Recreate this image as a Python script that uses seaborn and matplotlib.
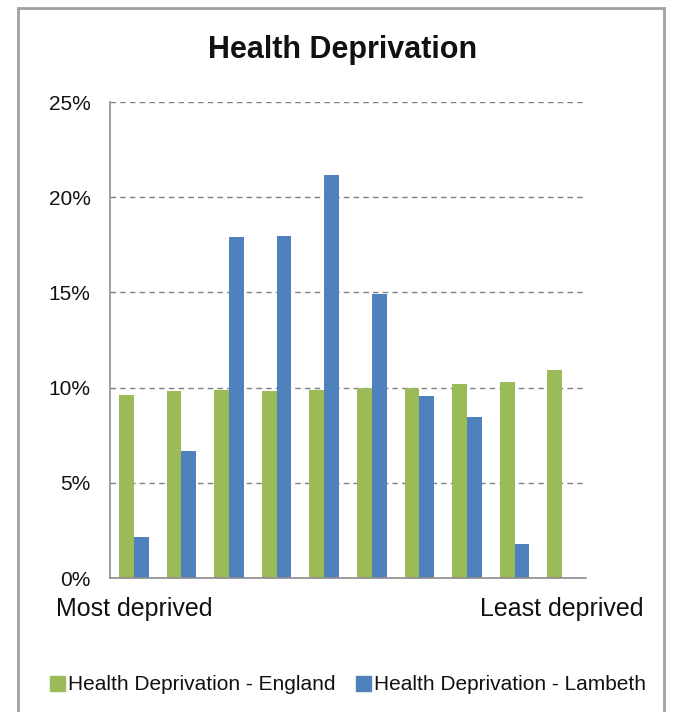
import numpy as np
import pandas as pd
import matplotlib
matplotlib.use("Agg")
import matplotlib.pyplot as plt
import matplotlib.patches as mpatches
import seaborn as sns

# ========= Data =========
deciles = [str(i) for i in range(1, 11)]
england = [9.63, 9.8, 9.9, 9.8, 9.9, 10.0, 10.0, 10.2, 10.28, 10.9]
lambeth = [2.17, 6.68, 17.9, 17.95, 21.16, 14.9, 9.54, 8.44, 1.77, 0.0]
series_names = ["Health Deprivation - England", "Health Deprivation - Lambeth"]
tick_labels = ["Most deprived", "", "", "", "", "", "", "", "", "Least deprived"]

df = pd.DataFrame({
    "decile": deciles * 2,
    "value": england + lambeth,
    "series": [series_names[0]] * 10 + [series_names[1]] * 10,
})

# ========= Plot =========
sns.set_style("white")
plt.rcParams["font.family"] = ["Liberation Sans", "DejaVu Sans"]
plt.rcParams["text.color"] = "#111111"
plt.rcParams["xtick.labelcolor"] = "#111111"
plt.rcParams["ytick.labelcolor"] = "#111111"

fig = plt.figure(figsize=(6.77, 7.12), dpi=100)
ax = fig.add_axes([110 / 677, 1 - 578 / 712, 476 / 677, 476 / 712])

sns.barplot(data=df, x="decile", y="value", hue="series",
            palette=["#9BBB59", "#4F81BD"], width=0.62, gap=0,
            saturation=1, linewidth=0, ax=ax, legend=False)

ax.set_ylim(0, 25)
ax.set_xlim(-0.5, 9.5)
ax.set_yticks([0, 5, 10, 15, 20, 25])
ax.set_yticklabels([f"{v}%" for v in [0, 5, 10, 15, 20, 25]], fontsize=15)
ax.set_xticks(range(10))
ax.set_xticklabels(tick_labels, fontsize=18)
ax.set_xticks(np.arange(-0.5, 10, 1), minor=True)
ax.tick_params(axis="x", which="major", length=0, pad=14)
ax.tick_params(axis="x", which="minor", length=6, color="#8c8c8c", width=1.2)
ax.tick_params(axis="y", length=6, color="#8c8c8c", width=1.2, pad=8)
ax.set_xlabel("")
ax.set_ylabel("")

ax.yaxis.grid(True, linestyle=(0, (4, 3)), color="#7f7f7f", linewidth=1)
ax.set_axisbelow(True)
for s in ["top", "right"]:
    ax.spines[s].set_visible(False)
for s in ["left", "bottom"]:
    ax.spines[s].set_color("#8c8c8c")
    ax.spines[s].set_linewidth(1.2)

fig.text(343 / 677, 1 - 50 / 712, "Health Deprivation", ha="center", va="center",
         fontsize=22, fontweight="bold")

handles = [mpatches.Patch(color="#9BBB59", label=series_names[0]),
           mpatches.Patch(color="#4F81BD", label=series_names[1])]
fig.legend(handles=handles, loc="center", bbox_to_anchor=(348 / 677, 1 - 685 / 712),
           ncol=2, frameon=False, fontsize=15, handlelength=0.7, handleheight=0.7,
           handletextpad=0.15, columnspacing=1.0)

# chart border
fig.patches.append(mpatches.Rectangle((18 / 677, -0.05), (664 - 18) / 677, 1.05 - 8 / 712,
                                      transform=fig.transFigure, fill=False,
                                      edgecolor="#a0a0a0", linewidth=2))

fig.savefig("out.png", dpi=100)
